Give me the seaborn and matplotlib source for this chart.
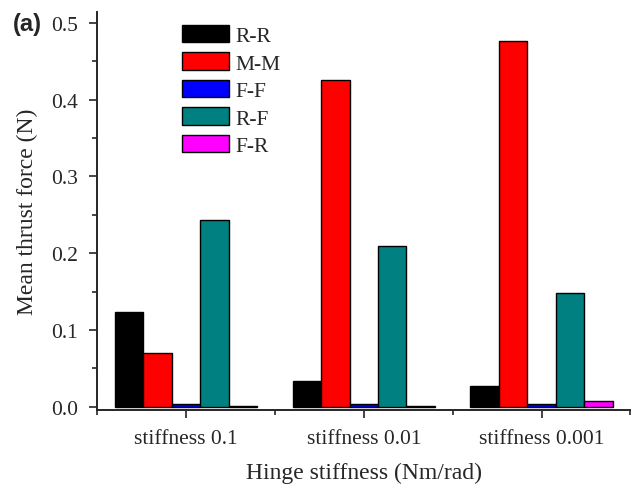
import matplotlib
matplotlib.use("Agg")
import matplotlib.pyplot as plt
from matplotlib.ticker import MultipleLocator, FixedLocator
import seaborn as sns
import pandas as pd

groups = ["stiffness 0.1", "stiffness 0.01", "stiffness 0.001"]
series = ["R-R", "M-M", "F-F", "R-F", "F-R"]
rr = [0.123, 0.033, 0.027]
mm = [0.070, 0.426, 0.477]
ff = [0.004, 0.004, 0.004]
rf = [0.243, 0.209, 0.148]
fr = [0.001, 0.001, 0.008]
colors = ["#000000", "#FF0000", "#0000FF", "#008080", "#FF00FF"]

rows = []
for name, vals in zip(series, [rr, mm, ff, rf, fr]):
    for g, v in zip(groups, vals):
        rows.append({"group": g, "config": name, "force": v})
df = pd.DataFrame(rows)

sns.set_style("ticks")
plt.rcParams["font.family"] = ["Liberation Serif", "DejaVu Serif"]

fig = plt.figure(figsize=(6.31, 4.85), dpi=100)
ax = fig.add_axes([0.154, 0.153, 0.845, 0.82])

sns.barplot(data=df, x="group", y="force", hue="config", order=groups,
            hue_order=series, palette=colors, saturation=1, width=0.8,
            edgecolor="black", linewidth=1, errorbar=None, ax=ax)

ax.set_xlim(-0.5, 2.5)
ax.set_ylim(-0.004, 0.514)
ax.yaxis.set_major_locator(MultipleLocator(0.1))
ax.yaxis.set_minor_locator(MultipleLocator(0.05))
ax.xaxis.set_minor_locator(FixedLocator([-0.5, 0.5, 1.5, 2.5]))
ax.set_yticks([0.0, 0.1, 0.2, 0.3, 0.4, 0.5])
ax.set_yticklabels(["0.0", "0.1", "0.2", "0.3", "0.4", "0.5"])
ax.tick_params(axis="both", which="major", direction="out", length=6, width=1.2,
               labelsize=15.5, pad=8)
ax.tick_params(axis="both", which="minor", direction="out", length=3.5, width=1.2)
sns.despine(ax=ax)
for s in ["left", "bottom"]:
    ax.spines[s].set_linewidth(1.4)

ax.set_xlabel("Hinge stiffness (Nm/rad)", fontsize=17, labelpad=10)
ax.set_ylabel("Mean thrust force (N)", fontsize=17, labelpad=9)

leg = ax.legend(loc="upper left", bbox_to_anchor=(182 / 631, 1 - 26 / 485),
                bbox_transform=fig.transFigure, frameon=False, fontsize=15.5,
                handlelength=2.2, handleheight=0.85, labelspacing=0.3,
                handletextpad=0.3, borderpad=0, borderaxespad=0)

fig.text(13 / 631, 1 - 25 / 485, "(a)", fontsize=17, fontweight="bold",
         family=["Liberation Sans", "DejaVu Sans"], va="center", ha="left")

fig.savefig("out.png", dpi=100)
